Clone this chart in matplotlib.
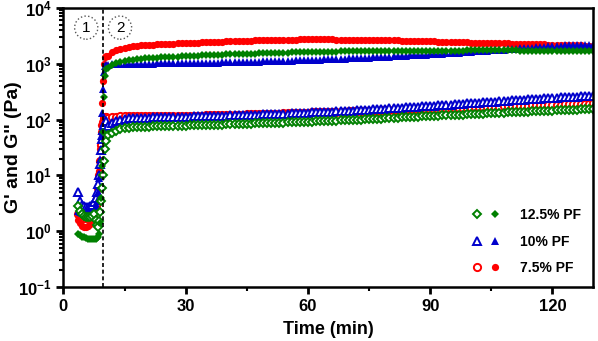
"""
Storage and loss moduli vs time for three PF concentrations
"""

import numpy as np
import matplotlib
matplotlib.use('Agg')
import matplotlib.pyplot as plt
from matplotlib.legend_handler import HandlerTuple
from matplotlib.ticker import FixedLocator, LogLocator, NullFormatter

plt.rcParams['font.family'] = ['Liberation Sans', 'DejaVu Sans']
plt.rcParams['font.weight'] = 'bold'
plt.rcParams['mathtext.fontset'] = 'custom'
plt.rcParams['mathtext.rm'] = 'Liberation Sans'
plt.rcParams['mathtext.bf'] = 'Liberation Sans:bold'

# time grid: dense around the gel point, then one point per minute
time_early = [3.5, 4, 4.5, 5, 5.5, 6, 6.5, 7, 7.5, 8, 8.25, 8.5, 8.75,
              9, 9.25, 9.5, 9.75, 10, 10.25, 10.5]
time_late = list(range(11, 131))
time_min = time_early + time_late

# 7.5% PF
red_gp = [1.6, 1.4, 1.25, 1.2, 1.2, 1.25, 1.35, 1.5, 1.8, 2.5, 3.5, 6, 12,
          30, 80, 200, 500, 1000, 1300, 1400,
          1400, 1600, 1750, 1850, 1930, 2000, 2050, 2090, 2120, 2150,
          2170, 2190, 2210, 2230, 2250, 2270, 2290, 2310, 2330, 2350,
          2365, 2380, 2395, 2410, 2425, 2440, 2455, 2470, 2485, 2500,
          2515, 2530, 2545, 2560, 2575, 2590, 2605, 2620, 2635, 2650,
          2660, 2670, 2680, 2690, 2700, 2705, 2710, 2715, 2720, 2720,
          2720, 2720, 2718, 2716, 2714, 2712, 2710, 2708, 2705, 2700,
          2695, 2690, 2685, 2678, 2670, 2662, 2654, 2646, 2638, 2630,
          2620, 2610, 2598, 2586, 2574, 2562, 2550, 2538, 2526, 2514,
          2502, 2490, 2478, 2466, 2454, 2442, 2430, 2418, 2406, 2394,
          2382, 2370, 2360, 2350, 2340, 2330, 2320, 2310, 2300, 2290,
          2280, 2270, 2260, 2250, 2240, 2230, 2220, 2210, 2200, 2190,
          2180, 2170, 2160, 2150, 2140, 2130, 2120, 2110, 2100, 2090]
red_gpp = [2.0, 1.8, 1.7, 1.7, 1.7, 1.8, 1.9, 2.1, 2.4, 3, 4, 6, 10,
           18, 35, 60, 90, 105, 110, 112,
           106, 110, 113, 115, 115, 115, 114, 114, 114, 114,
           114, 114, 115, 115, 115, 115, 116, 116, 116, 117,
           117, 117, 118, 118, 119, 119, 120, 120, 121, 121,
           122, 122, 123, 123, 124, 124, 125, 125, 126, 127,
           127, 128, 128, 129, 130, 130, 131, 132, 132, 133,
           134, 134, 135, 136, 136, 137, 138, 138, 139, 140,
           141, 141, 142, 143, 144, 144, 145, 146, 147, 148,
           148, 149, 150, 151, 152, 152, 153, 154, 155, 156,
           157, 157, 158, 159, 160, 161, 162, 163, 164, 164,
           165, 166, 167, 168, 169, 170, 171, 172, 173, 174,
           175, 176, 177, 178, 179, 180, 181, 182, 183, 184,
           185, 186, 187, 188, 189, 190, 191, 192, 193, 194]

# 10% PF
blue_gp = [2.3, 2.2, 2.1, 2.0, 2.0, 2.0, 2.1, 2.2, 2.4, 2.8, 3.5, 5, 9,
           20, 50, 130, 350, 700, 900, 950,
           950, 980, 995, 1000, 1005, 1005, 1005, 1005, 1005, 1005,
           1005, 1008, 1010, 1012, 1014, 1016, 1018, 1020, 1023, 1026,
           1029, 1032, 1035, 1038, 1041, 1044, 1047, 1050, 1054, 1058,
           1062, 1066, 1070, 1074, 1078, 1082, 1087, 1092, 1097, 1102,
           1107, 1112, 1118, 1124, 1130, 1136, 1142, 1148, 1155, 1162,
           1169, 1176, 1183, 1190, 1198, 1206, 1214, 1222, 1231, 1240,
           1249, 1258, 1268, 1278, 1288, 1298, 1309, 1320, 1331, 1342,
           1354, 1366, 1378, 1391, 1404, 1417, 1431, 1445, 1459, 1474,
           1489, 1504, 1520, 1536, 1552, 1569, 1586, 1603, 1621, 1639,
           1657, 1676, 1695, 1714, 1734, 1754, 1774, 1795, 1816, 1837,
           1859, 1881, 1903, 1926, 1949, 1972, 1996, 2020, 2044, 2068,
           2092, 2110, 2125, 2135, 2140, 2145, 2150, 2150, 2150, 2150]
blue_gpp = [5, 3.5, 3.0, 2.8, 2.7, 2.7, 2.8, 3.0, 3.3, 4, 5, 7, 10,
            16, 28, 45, 65, 80, 90, 95,
            76, 88, 96, 100, 103, 105, 106, 107, 107, 108,
            108, 109, 109, 110, 110, 111, 111, 112, 112, 113,
            113, 114, 114, 115, 115, 116, 116, 117, 118, 118,
            119, 119, 120, 121, 121, 122, 123, 123, 124, 125,
            125, 126, 127, 127, 128, 129, 130, 131, 132, 133,
            134, 135, 136, 137, 138, 139, 140, 141, 142, 144,
            145, 146, 148, 149, 150, 152, 153, 155, 156, 158,
            160, 161, 163, 165, 166, 168, 170, 172, 174, 176,
            178, 180, 182, 184, 186, 188, 190, 192, 194, 196,
            198, 200, 203, 205, 207, 210, 212, 215, 217, 220,
            222, 225, 227, 230, 232, 235, 238, 240, 243, 246,
            248, 250, 252, 254, 256, 258, 259, 260, 261, 262]

# 12.5% PF
green_gp = [0.9, 0.85, 0.8, 0.78, 0.75, 0.73, 0.72, 0.72, 0.72, 0.74, 0.76,
            0.8, 0.9, 1.4, 4, 15, 60, 250, 600, 800,
            850, 950, 1030, 1090, 1130, 1160, 1180, 1200, 1220, 1240,
            1255, 1270, 1285, 1300, 1315, 1325, 1335, 1345, 1355, 1365,
            1375, 1385, 1395, 1405, 1415, 1425, 1435, 1445, 1455, 1465,
            1473, 1481, 1489, 1497, 1505, 1513, 1521, 1529, 1537, 1545,
            1552, 1559, 1566, 1573, 1580, 1587, 1594, 1601, 1608, 1615,
            1620, 1625, 1630, 1635, 1640, 1645, 1650, 1655, 1660, 1665,
            1668, 1671, 1674, 1677, 1680, 1683, 1686, 1689, 1692, 1695,
            1697, 1699, 1701, 1703, 1705, 1707, 1709, 1711, 1713, 1715,
            1716, 1717, 1718, 1719, 1720, 1721, 1722, 1723, 1724, 1725,
            1725, 1725, 1725, 1725, 1725, 1725, 1725, 1725, 1725, 1725,
            1724, 1723, 1722, 1721, 1720, 1719, 1718, 1717, 1716, 1715,
            1713, 1711, 1709, 1707, 1705, 1703, 1701, 1699, 1697, 1695]
green_gpp = [2.8, 2.3, 2.0, 1.9, 1.8, 1.8, 1.8, 1.9, 2.0, 1.6, 1.3, 1.2,
             1.5, 2.2, 3.5, 6, 10, 18, 30, 42,
             52, 58, 63, 67, 70, 72, 73, 74, 74, 75,
             75, 76, 76, 76, 77, 77, 77, 78, 78, 78,
             79, 79, 79, 80, 80, 80, 81, 81, 81, 82,
             82, 82, 83, 83, 84, 84, 85, 85, 86, 86,
             87, 87, 88, 88, 89, 89, 90, 91, 91, 92,
             92, 93, 93, 94, 95, 95, 96, 97, 97, 98,
             99, 100, 100, 101, 102, 103, 104, 104, 105, 106,
             107, 108, 109, 110, 111, 112, 113, 114, 115, 116,
             117, 118, 119, 120, 121, 122, 122, 123, 124, 125,
             126, 127, 128, 129, 130, 131, 132, 133, 134, 135,
             136, 137, 138, 139, 140, 141, 142, 143, 144, 145,
             146, 147, 148, 149, 150, 151, 152, 153, 154, 155]

series = [
    ('7.5% PF', 'red', 'o', red_gp, red_gpp),
    ('10% PF', '#0000cc', '^', blue_gp, blue_gpp),
    ('12.5% PF', 'green', 'D', green_gp, green_gpp),
]

gel_time = 9.7

fig = plt.figure(figsize=(5.98, 3.41), dpi=100)
ax = fig.add_axes([0.106, 0.158, 0.886, 0.819])

handles = {}
for label, color, marker, gp, gpp in series:
    ms = 5.2 if marker != 'D' else 4.4
    h_open, = ax.plot(time_min, gpp, linestyle='none', marker=marker,
                      markersize=ms, markerfacecolor='white',
                      markeredgecolor=color, markeredgewidth=1.4)
    h_fill, = ax.plot(time_min, gp, linestyle='none', marker=marker,
                      markersize=ms, color=color, markeredgewidth=0)
    handles[label] = (h_open, h_fill)

ax.axvline(gel_time, color='black', linestyle='--', linewidth=1.2, dashes=(2.4, 1.6))

# phase markers
for txt, tx in [('1', 5.6), ('2', 13.9)]:
    ax.text(tx, 4700, txt, ha='center', va='center_baseline', fontsize=11,
            fontweight='normal',
            bbox=dict(boxstyle='circle,pad=0.3', facecolor='white',
                      edgecolor='#555555', linestyle=':', linewidth=1))

ax.set_yscale('log')
ax.set_xlim(0, 130)
ax.set_ylim(0.1, 1e4)

ax.xaxis.set_major_locator(FixedLocator([0, 30, 60, 90, 120]))
ax.xaxis.set_minor_locator(FixedLocator([15, 45, 75, 105]))
ax.set_xticklabels(['0', '30', '60', '90', '120'])

decades = [0.1, 1, 10, 100, 1000, 10000]
ax.yaxis.set_major_locator(FixedLocator(decades))
ax.set_yticklabels([r'$\mathbf{10^{-1}}$', r'$\mathbf{10^{0}}$', r'$\mathbf{10^{1}}$',
                    r'$\mathbf{10^{2}}$', r'$\mathbf{10^{3}}$', r'$\mathbf{10^{4}}$'])
ax.yaxis.set_minor_locator(LogLocator(base=10, subs=np.arange(2, 10)))
ax.yaxis.set_minor_formatter(NullFormatter())

ax.tick_params(which='major', direction='out', length=5, width=2, labelsize=12)
ax.tick_params(which='minor', direction='out', length=3, width=1.5)
for s in ax.spines.values():
    s.set_linewidth(1.8)

ax.set_xlabel('Time (min)', fontsize=13, fontweight='bold', labelpad=5)
ax.set_ylabel("G' and G'' (Pa)", fontsize=14, fontweight='bold')
ax.yaxis.set_label_coords(-0.078, 0.5)

order = ['12.5% PF', '10% PF', '7.5% PF']
ax.legend([handles[k] for k in order], order,
          handler_map={tuple: HandlerTuple(ndivide=None, pad=0)},
          loc='lower right', frameon=False,
          handlelength=2.6, handletextpad=1.2, labelspacing=0.9,
          borderaxespad=0.45, prop={'weight': 'bold', 'size': 10})

fig.savefig('out.png', dpi=100)
